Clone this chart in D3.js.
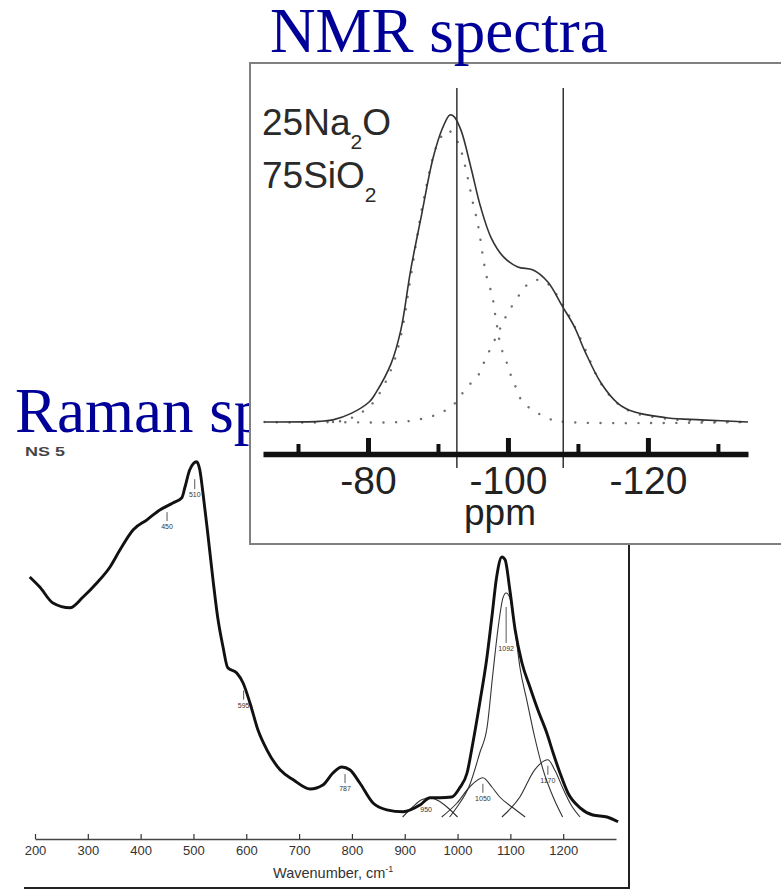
<!DOCTYPE html>
<html>
<head>
<meta charset="utf-8">
<script src="https://cdn.jsdelivr.net/npm/d3@7"></script>
<style>
  html, body { margin: 0; padding: 0; background: #fff; }
  svg { display: block; }
  .sans { font-family: "Liberation Sans", Arial, sans-serif; }
  .serif { font-family: "Liberation Serif", "Times New Roman", serif; }
</style>
</head>
<body>
<svg id="chart" width="781" height="891"></svg>
<script>
// ---------- Raman spectrum (NS 5 glass), wavenumber in cm-1, intensity in arbitrary units ----------
const ramanWavenumber = [190, 209, 234, 266, 291, 317, 342, 361, 386, 412, 437, 461, 478, 484, 493, 506, 512, 518, 527, 537,
  546, 556, 565, 582, 594, 607, 622, 639, 664, 689, 721, 745, 764, 781, 796, 815, 840, 866, 897, 929,
  948, 967, 989, 1004, 1018, 1029, 1042, 1055, 1065, 1074, 1084, 1090, 1099, 1109, 1122, 1137, 1152, 1169, 1181, 1194,
  1209, 1232, 1256, 1283, 1304];
const ramanIntensity = [65.5, 63, 59, 57.8, 60.5, 64, 68, 72.3, 77.3, 79.8, 82.3, 84, 85.3, 88, 92.3, 94.3, 92.3, 86.5, 76.5, 64.8,
  55.3, 48, 42.8, 41.5, 39, 34, 27.3, 22.3, 17.3, 14.8, 12.5, 13.5, 16.5, 18, 17.3, 14, 9, 7.3, 6.8, 8.5,
  10.3, 10.3, 10.5, 12.8, 16.5, 24, 34, 44.8, 55.5, 65.5, 70.5, 69.8, 62.3, 52.3, 44, 38, 32.3, 26.5, 21.5, 16.5,
  11.5, 7.8, 6, 5.5, 4.3];

// Fitted Gaussian bands in the 850-1250 cm-1 region
const band950 = [[896, 5.5], [915, 8], [932, 9.8], [948, 10.3], [963, 9.6], [980, 8], [1000, 5.5]];
const band1050 = [[970, 5.5], [999, 9], [1023, 13], [1048, 15.3], [1065, 13], [1080, 10.5], [1105, 7.8], [1128, 5.5]];
const band1092 = [[985, 5.5], [999, 8], [1023, 13.5], [1042, 21.5], [1056, 28], [1067, 41.5], [1077, 53], [1086, 60.3],
  [1092, 61.5], [1099, 60.3], [1109, 52.3], [1118, 43], [1131, 34.8], [1146, 25.5], [1162, 17.3], [1181, 10.5], [1199, 5.5]];
const band1170 = [[1084, 5.5], [1118, 10.5], [1146, 17.3], [1171, 19.8], [1185, 17], [1200, 12.5], [1215, 8.5], [1232, 5.5]];

// Peak annotations: label and the curve each one sits under
const ramanPeakLabels = ["450", "510", "595", "787", "950", "1050", "1092", "1170"];
const ramanPeakWn = [450, 510, 595, 787, 948, 1048, 1092, 1171];
const ramanPeakCurve = ["total", "total", "total", "total", "total", "b1050", "b1092", "b1170"];

const ramanTicks = [200, 300, 400, 500, 600, 700, 800, 900, 1000, 1100, 1200];

// ---------- 29Si MAS NMR spectrum of 25Na2O-75SiO2, shift in ppm ----------
const nmrTotal = [[-65.2, 0], [-73, 0.2], [-75, 0.7], [-77.6, 2.8], [-80.2, 6.6], [-81.1, 9.4], [-83.3, 19], [-84.7, 30],
  [-86.1, 49.5], [-87.6, 66.8], [-89.3, 86], [-90.7, 96], [-91.7, 100], [-92.3, 99.5], [-93.3, 95], [-94.7, 83],
  [-96.1, 70], [-97.6, 60], [-99.4, 53.7], [-101.4, 50.5], [-103.6, 49.5], [-105.7, 45.6], [-107.8, 37.6], [-109.5, 31],
  [-111, 23], [-113.3, 12.7], [-115.7, 6.1], [-118, 3.3], [-122.9, 1.3], [-127.6, 0.7], [-134.3, 0]];
const nmrQ3 = [[-65.2, 0], [-75, 0], [-76.9, 0.7], [-78.7, 2.6], [-80.7, 6.2], [-83.3, 17], [-84.7, 28], [-86.1, 47],
  [-88, 73], [-90, 90.9], [-91.4, 95], [-92.9, 90.9], [-93.7, 85], [-94.4, 78], [-95, 71.3], [-95.7, 64.5], [-96.6, 51.5],
  [-97.1, 46], [-97.7, 41.7], [-98.3, 33.2], [-99, 24.4], [-99.7, 20.2], [-100.4, 15.3], [-101.1, 11.4], [-102.1, 6.5],
  [-104, 3.3], [-105.9, 1], [-108.3, 0], [-134.3, 0]];
const nmrQ4 = [[-75, 0], [-84.7, 0], [-86.9, 0.7], [-88.7, 1.6], [-90.7, 3.3], [-92.6, 6.5], [-94, 11], [-95.7, 15],
  [-96.6, 19.5], [-97.6, 24.4], [-98.6, 29], [-99.4, 33], [-100.4, 37.1], [-101.9, 42.3], [-102.9, 45], [-104.2, 46.3],
  [-105.4, 45.6], [-106.8, 42], [-108.3, 36.5], [-110.4, 27], [-113.3, 12.5], [-115.7, 6], [-118, 3], [-122.9, 1],
  [-127.6, 0.3], [-134.3, 0]];
const nmrMarkers = [-92.7, -107.9];
const nmrMajorTicks = [-80, -100, -120];
const nmrMinorTicks = [-70, -90, -110, -130];

const titleColor = "#000099";
const svg = d3.select("#chart");

// ================= Raman panel =================
svg.append("text").attr("class", "serif")
  .attr("x", 15).attr("y", 432)
  .attr("font-size", 63).attr("fill", titleColor)
  .text("Raman spectra");

const rx = d3.scaleLinear().domain([200, 1300]).range([35, 616]);
const ry = d3.scaleLinear().domain([0, 100]).range([839, 439]);

const raman = svg.append("g");

// frame (right and bottom edges)
raman.append("line").attr("x1", 629).attr("x2", 629).attr("y1", 545).attr("y2", 888)
  .attr("stroke", "#222").attr("stroke-width", 2);
raman.append("line").attr("x1", 24).attr("x2", 630).attr("y1", 888).attr("y2", 888)
  .attr("stroke", "#222").attr("stroke-width", 2);

raman.append("text").attr("class", "sans")
  .attr("x", 25).attr("y", 456)
  .attr("font-size", 13.5).attr("font-weight", "bold").attr("fill", "#444")
  .attr("textLength", 40).attr("lengthAdjust", "spacingAndGlyphs")
  .text("NS 5");

// x axis with inward ticks
const rAxis = raman.append("g").attr("transform", "translate(0,839)")
  .call(d3.axisBottom(rx).tickValues(ramanTicks).tickSize(-5).tickSizeOuter(0).tickPadding(7)
    .tickFormat(d => String(d)));
rAxis.select(".domain").attr("stroke", "#444").attr("stroke-width", 1.5);
rAxis.selectAll(".tick line").attr("stroke", "#333").attr("stroke-width", 1.2);
rAxis.selectAll(".tick text").attr("font-size", 13).attr("fill", "#333")
  .attr("font-family", "Liberation Sans, Arial, sans-serif");

const wl = raman.append("text").attr("class", "sans")
  .attr("x", 273).attr("y", 878).attr("font-size", 14.5).attr("fill", "#333");
wl.append("tspan").text("Wavenumber, cm");
wl.append("tspan").attr("font-size", 9).attr("dy", -6).text("-1");

const rLine = d3.line().x(d => rx(d[0])).y(d => ry(d[1])).curve(d3.curveMonotoneX);
const ramanPts = ramanWavenumber.map((w, i) => [w, ramanIntensity[i]]);

const bands = { b950: band950, b1050: band1050, b1092: band1092, b1170: band1170 };
Object.values(bands).forEach(b => {
  raman.append("path").attr("d", rLine(b))
    .attr("fill", "none").attr("stroke", "#333").attr("stroke-width", 1.1);
});

raman.append("path").attr("d", rLine(ramanPts))
  .attr("fill", "none").attr("stroke", "#111").attr("stroke-width", 2.9)
  .attr("stroke-linejoin", "round");

// peak position markers: small tick under the curve, value beneath it
function interp(pts, w) {
  for (let i = 0; i < pts.length - 1; i++) {
    if (w >= pts[i][0] && w <= pts[i + 1][0]) {
      const t = (w - pts[i][0]) / (pts[i + 1][0] - pts[i][0]);
      return pts[i][1] + t * (pts[i + 1][1] - pts[i][1]);
    }
  }
  return pts[pts.length - 1][1];
}
const markStyle = {
  "1092": { gap: 14, len: 36, dx: 0 },
  "510": { gap: 12, len: 10, dx: -4 },
  "950": { gap: 6, len: 0, dx: -4 }
};
const labelLayer = raman.append("g").attr("opacity", 0.99);
ramanPeakLabels.forEach((lab, i) => {
  const w = ramanPeakWn[i];
  const src = ramanPeakCurve[i] === "total" ? ramanPts : bands[ramanPeakCurve[i]];
  const st = markStyle[lab] || { gap: 6, len: 9, dx: 0 };
  const x = rx(w) + st.dx, y0 = ry(interp(src, w)) + st.gap;
  if (st.len > 0) {
    labelLayer.append("line").attr("x1", x).attr("x2", x).attr("y1", y0).attr("y2", y0 + st.len)
      .attr("stroke", "#444").attr("stroke-width", 0.9);
  }
  labelLayer.append("text").attr("class", "sans")
    .attr("x", x).attr("y", y0 + st.len + 8)
    .attr("text-anchor", "middle").attr("font-size", 7).attr("fill", "#333")
    .text(lab);
});

// ================= NMR panel =================
svg.append("rect")
  .attr("x", 250).attr("y", 63).attr("width", 560).attr("height", 481)
  .attr("fill", "#fff").attr("stroke", "#808080").attr("stroke-width", 2);

const nx = d3.scaleLinear().domain([-65, -134.3]).range([263, 748]);
const ny = d3.scaleLinear().domain([0, 100]).range([422, 115]);
const nmr = svg.append("g");

const nLine = d3.line().x(d => nx(d[0])).y(d => ny(d[1])).curve(d3.curveCatmullRom);

[nmrQ3, nmrQ4].forEach(c => {
  nmr.append("path").attr("d", nLine(c))
    .attr("fill", "none").attr("stroke", "#707070").attr("stroke-width", 2.4)
    .attr("stroke-linecap", "round").attr("stroke-dasharray", "0.1 12.5");
});

nmr.append("path").attr("d", nLine(nmrTotal))
  .attr("fill", "none").attr("stroke", "#333").attr("stroke-width", 1.6);

nmrMarkers.forEach(p => {
  nmr.append("line").attr("x1", nx(p)).attr("x2", nx(p)).attr("y1", 88).attr("y2", 468)
    .attr("stroke", "#333").attr("stroke-width", 1.5);
});

const nAxis = nmr.append("g").attr("transform", "translate(0,454)")
  .call(d3.axisBottom(nx).tickValues(nmrMajorTicks).tickSize(-16).tickSizeOuter(0).tickPadding(12)
    .tickFormat(d => String(d)));
nAxis.select(".domain").attr("stroke", "#111").attr("stroke-width", 5.5);
nAxis.selectAll(".tick line").attr("stroke", "#111").attr("stroke-width", 5);
nAxis.selectAll(".tick text").attr("font-size", 39).attr("fill", "#222")
  .attr("font-family", "Liberation Sans, Arial, sans-serif");

const nMinor = nmr.append("g").attr("transform", "translate(0,454)")
  .call(d3.axisBottom(nx).tickValues(nmrMinorTicks).tickSize(-10).tickSizeOuter(0).tickFormat(""));
nMinor.select(".domain").remove();
nMinor.selectAll(".tick line").attr("stroke", "#111").attr("stroke-width", 4);

nmr.append("text").attr("class", "sans")
  .attr("x", 500).attr("y", 525).attr("text-anchor", "middle")
  .attr("font-size", 37).attr("fill", "#222").text("ppm");

// composition label with subscripts
const comp = [["25Na", "2", "O", 135], ["75SiO", "2", "", 188]];
comp.forEach(([a, sub, b, y]) => {
  const t = nmr.append("text").attr("class", "sans")
    .attr("x", 262).attr("y", y).attr("font-size", 37).attr("fill", "#2a2a2a");
  t.append("tspan").text(a);
  t.append("tspan").attr("font-size", 21).attr("dy", 14).text(sub);
  if (b) t.append("tspan").attr("dy", -14).text(b);
});

svg.append("text").attr("class", "serif")
  .attr("x", 270).attr("y", 52)
  .attr("font-size", 63).attr("fill", titleColor)
  .text("NMR spectra");
</script>
</body>
</html>
